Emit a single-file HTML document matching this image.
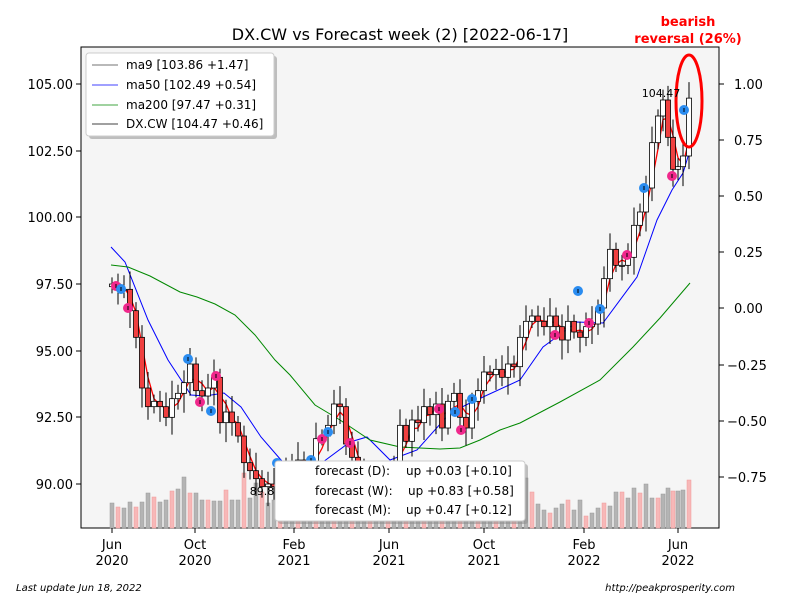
<!DOCTYPE html>
<html><head><meta charset="utf-8"><style>
body{margin:0;background:#fff;width:800px;height:600px;overflow:hidden;font-family:"DejaVu Sans","Liberation Sans",sans-serif}
svg text{font-family:"DejaVu Sans","Liberation Sans",sans-serif}
</style></head><body>
<svg id="s" width="800" height="600" xmlns="http://www.w3.org/2000/svg">
<rect x="0" y="0" width="800" height="600" fill="#fff"/>
<rect x="81" y="47" width="638" height="481" fill="#f5f5f5" stroke="#000" stroke-width="1"/>
<g id="vol"></g><g id="lines"></g><g id="candles"></g><g id="marks"></g>
<text x="400" y="40" font-size="16" text-anchor="middle">DX.CW vs Forecast week (2) [2022-06-17]</text>
<text x="688" y="26" font-size="13" font-weight="bold" fill="#f00" text-anchor="middle">bearish</text>
<text x="688" y="43" font-size="13" font-weight="bold" fill="#f00" text-anchor="middle">reversal (26%)</text>
<ellipse cx="689" cy="101" rx="13" ry="46" fill="none" stroke="#f00" stroke-width="3"/>
<text x="661" y="97" font-size="11" text-anchor="middle">104.47</text>
<text x="262" y="495" font-size="11" text-anchor="middle">89.8</text>
<g font-size="13" text-anchor="end">
<line x1="76" y1="84" x2="81" y2="84" stroke="#000"/><text x="73" y="89">105.00</text>
<line x1="76" y1="151" x2="81" y2="151" stroke="#000"/><text x="73" y="156">102.50</text>
<line x1="76" y1="217" x2="81" y2="217" stroke="#000"/><text x="73" y="222">100.00</text>
<line x1="76" y1="284" x2="81" y2="284" stroke="#000"/><text x="73" y="289">97.50</text>
<line x1="76" y1="351" x2="81" y2="351" stroke="#000"/><text x="73" y="356">95.00</text>
<line x1="76" y1="417" x2="81" y2="417" stroke="#000"/><text x="73" y="422">92.50</text>
<line x1="76" y1="484" x2="81" y2="484" stroke="#000"/><text x="73" y="489">90.00</text>
</g>
<g font-size="13" text-anchor="start">
<line x1="719" y1="84" x2="724" y2="84" stroke="#000"/><text x="734" y="89">1.00</text>
<line x1="719" y1="140" x2="724" y2="140" stroke="#000"/><text x="734" y="145">0.75</text>
<line x1="719" y1="196" x2="724" y2="196" stroke="#000"/><text x="734" y="201">0.50</text>
<line x1="719" y1="252" x2="724" y2="252" stroke="#000"/><text x="734" y="257">0.25</text>
<line x1="719" y1="308" x2="724" y2="308" stroke="#000"/><text x="734" y="313">0.00</text>
<line x1="719" y1="365" x2="724" y2="365" stroke="#000"/><text x="727" y="370">−0.25</text>
<line x1="719" y1="421" x2="724" y2="421" stroke="#000"/><text x="727" y="426">−0.50</text>
<line x1="719" y1="477" x2="724" y2="477" stroke="#000"/><text x="727" y="482">−0.75</text>
</g>
<g font-size="13" text-anchor="middle">
<line x1="112" y1="528" x2="112" y2="533" stroke="#000"/><text x="112" y="549">Jun</text><text x="112" y="565">2020</text>
<line x1="195" y1="528" x2="195" y2="533" stroke="#000"/><text x="195" y="549">Oct</text><text x="195" y="565">2020</text>
<line x1="294" y1="528" x2="294" y2="533" stroke="#000"/><text x="294" y="549">Feb</text><text x="294" y="565">2021</text>
<line x1="389" y1="528" x2="389" y2="533" stroke="#000"/><text x="389" y="549">Jun</text><text x="389" y="565">2021</text>
<line x1="484" y1="528" x2="484" y2="533" stroke="#000"/><text x="484" y="549">Oct</text><text x="484" y="565">2021</text>
<line x1="584" y1="528" x2="584" y2="533" stroke="#000"/><text x="584" y="549">Feb</text><text x="584" y="565">2022</text>
<line x1="678" y1="528" x2="678" y2="533" stroke="#000"/><text x="678" y="549">Jun</text><text x="678" y="565">2022</text>
</g>
<text x="16" y="591" font-size="10" font-style="italic">Last update Jun 18, 2022</text>
<text x="735" y="591" font-size="10" font-style="italic" text-anchor="end">http://peakprosperity.com</text>
<rect x="89" y="56" width="188" height="83" rx="3" fill="#888" opacity="0.5"/>
<rect x="86" y="53" width="188" height="83" rx="3" fill="#fff" stroke="#ccc"/>
<g font-size="12">
<line x1="92" y1="65" x2="118" y2="65" stroke="#444" stroke-width="0.8"/><text x="126" y="69">ma9 [103.86 +1.47]</text>
<line x1="92" y1="85" x2="118" y2="85" stroke="#00f" stroke-width="0.8"/><text x="126" y="89">ma50 [102.49 +0.54]</text>
<line x1="92" y1="105" x2="118" y2="105" stroke="#080" stroke-width="0.8"/><text x="126" y="109">ma200 [97.47 +0.31]</text>
<line x1="92" y1="124" x2="118" y2="124" stroke="#000" stroke-width="0.8"/><text x="126" y="128">DX.CW [104.47 +0.46]</text>
</g>
<rect x="278" y="464" width="250" height="60" rx="3" fill="#888" opacity="0.5"/>
<rect x="275" y="461" width="250" height="60" rx="3" fill="#fff" stroke="#ccc"/>
<g font-size="12">
<text x="315" y="475">forecast (D):</text><text x="406" y="475">up +0.03 [+0.10]</text>
<text x="315" y="495">forecast (W):</text><text x="408" y="495">up +0.83 [+0.58]</text>
<text x="315" y="514">forecast (M):</text><text x="406" y="514">up +0.47 [+0.12]</text>
</g>
</svg>
<script>
const NS="http://www.w3.org/2000/svg";
function el(p,t,a){const e=document.createElementNS(NS,t);for(const k in a)e.setAttribute(k,a[k]);document.getElementById(p).appendChild(e);return e;}
const Y=p=>84+(105-p)*26.667;
const kf=[[112,97.5],[118,97.3],[124,97.3],[130,96.5],[136,95.5],[142,93.6],[148,92.9],[154,93.1],[160,92.9],[166,92.5],[172,93.2],[178,93.4],[184,93.8],[190,94.5],[196,93.5],[202,93.3],[208,93.6],[214,94.0],[220,92.3],[226,92.7],[232,92.3],[238,91.8],[244,90.8],[250,90.5],[256,90.2],[262,89.9],[268,90.0],[274,89.9],[280,90.5],[286,90.6],[292,90.3],[298,90.9],[304,90.6],[310,90.5],[316,91.7],[322,91.8],[328,92.2],[334,93.0],[340,92.9],[346,91.5],[352,91.0],[358,90.7],[364,90.1],[370,89.9],[376,90.2],[382,90.0],[388,90.3],[394,90.6],[400,92.2],[406,91.6],[412,92.4],[418,92.3],[424,92.9],[430,92.6],[436,93.0],[442,92.1],[448,93.1],[454,93.4],[460,92.5],[466,92.1],[472,93.1],[478,93.5],[484,94.2],[490,94.1],[496,94.3],[502,94.0],[508,94.5],[514,94.4],[520,95.5],[526,96.1],[532,96.3],[538,96.1],[544,95.9],[550,96.3],[556,95.9],[562,95.4],[568,96.1],[574,95.7],[580,95.5],[586,95.9],[592,96.0],[598,96.6],[604,97.7],[610,98.8],[616,98.2],[622,98.2],[628,98.5],[634,99.7],[640,100.2],[646,101.1],[652,102.8],[658,103.8],[663,104.4],[668,103.0],[673,101.8],[678,101.9],[683,102.3],[689,104.47]];
let prev=97.4;const closes=[];
kf.forEach(([x,c],i)=>{const o=prev;const hi=Math.max(o,c)+0.25+((i*37)%7)*0.07,lo=Math.min(o,c)-0.25-((i*53)%7)*0.08;
el("candles","line",{x1:x,y1:Y(hi),x2:x,y2:Y(lo),stroke:"#000","stroke-width":1});
const up=c>=o;const t=Y(Math.max(o,c)),b=Y(Math.min(o,c));
el("candles","rect",{x:x-2.5,y:t,width:5,height:Math.max(1,b-t),fill:up?"#fff":"#f04040",stroke:"#000","stroke-width":0.8});
closes.push([x,c]);prev=c;});
let pts=closes.map((p,i)=>{let s=0,n=0;for(let j=Math.max(0,i-2);j<=i;j++){s+=closes[j][1];n++;}return (p[0]).toFixed(1)+","+Y(s/n).toFixed(1);});
el("lines","polyline",{points:pts.join(" "),fill:"none",stroke:"#f00","stroke-width":1.3});
el("lines","polyline",{points:"111,247 125,262 148,320 168,360 191,395 205,396 224,393 241,407 261,437 281,460 300,482 323,462 350,442 367,437 390,460 417,450 450,413 470,403 520,380 543,347 577,322 603,323 637,277 657,220 672,190 683,173 690,150",fill:"none",stroke:"#00f","stroke-width":1});
el("lines","polyline",{points:"111,265 128,267 150,276 180,292 197,297 215,304 235,315 255,335 275,360 290,375 315,405 340,420 370,440 400,447 440,449 460,448 480,440 500,430 520,423 560,402 600,380 633,347 660,318 690,283",fill:"none",stroke:"#080","stroke-width":1});
const vh=[25,21,20,26,21,26,35,31,26,28,37,39,51,35,35,28,28,27,27,38,28,28,55,30,45,36,25,28,30,26,24,22,20,25,24,30,27,22,20,25,28,22,24,30,20,25,22,28,24,20,26,30,24,28,22,26,22,30,24,32,28,18,20,25,22,27,24,30,22,50,36,24,18,15,20,24,28,18,28,12,15,20,25,22,36,36,30,40,35,44,30,30,34,40,37,37,38,48,39,36,43,20,35,73,62,46,46];
kf.forEach(([x],i)=>{const h=vh[i]||30;const g=i>=103||(i*7+i*i)%3==0;el("vol","rect",{x:x-2,y:528-h,width:4,height:h,fill:g?"#b4b4b4":"#f7b8b8",stroke:g?"#999":"#f09a9a","stroke-width":0.5});});
const pink=[[116,286],[128,308],[200,402],[216,376],[322,439],[350,443],[439,409],[461,430],[555,335],[589,323],[627,255],[672,176]];
const blue=[[121,289],[188,359],[211,411],[277,463],[311,460],[328,432],[455,412],[472,399],[578,291],[600,309],[644,188],[684,110]];
pink.forEach(([x,y])=>{el("marks","circle",{cx:x,cy:y,r:5,fill:"#f0288c"});el("marks","line",{x1:x,y1:y-2,x2:x,y2:y+2,stroke:"#000"});});
blue.forEach(([x,y])=>{el("marks","circle",{cx:x,cy:y,r:5,fill:"#2a8cf0"});el("marks","line",{x1:x,y1:y-2,x2:x,y2:y+2,stroke:"#000"});});
</script>
</body></html>
